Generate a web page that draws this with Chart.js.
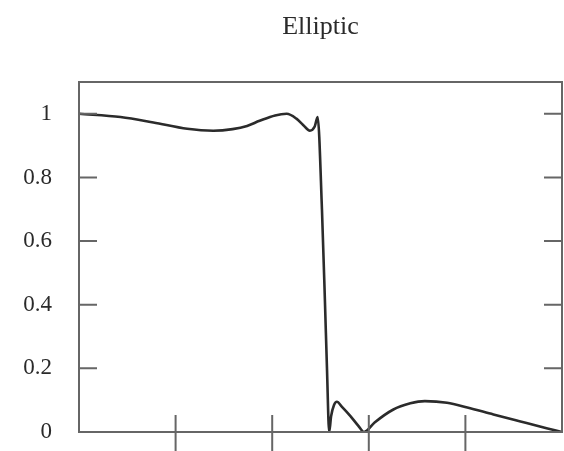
<!DOCTYPE html>
<html>
<head>
<meta charset="utf-8">
<script src="https://cdn.jsdelivr.net/npm/chart.js@4/dist/chart.umd.min.js"></script>
<style>
  html, body { margin: 0; padding: 0; background: #fff; }
  #wrap { width: 564px; height: 451px; }
</style>
</head>
<body>
<div id="wrap"><canvas id="chart" width="564" height="451"></canvas></div>
<script>
// Elliptic filter magnitude response
const freq = [0, 0.43, 0.77, 1.12, 1.39, 1.59, 1.74, 1.87, 2.03, 2.15, 2.25, 2.32, 2.39, 2.44, 2.47,
              2.515, 2.547, 2.567, 2.59, 2.61, 2.64, 2.67, 2.72, 2.81, 2.89, 2.95,
              3.06, 3.25, 3.43, 3.58, 3.81, 4.02, 4.29, 4.57, 4.84, 5.0];
const gain = [1.0, 0.99, 0.973, 0.953, 0.947, 0.952, 0.962, 0.978, 0.995, 1.0, 0.985, 0.965, 0.947, 0.96, 0.99,
              0.7, 0.4, 0.2, 0.0, 0.05, 0.085, 0.095, 0.08, 0.05, 0.02, 0.0,
              0.03, 0.07, 0.09, 0.097, 0.092, 0.077, 0.055, 0.033, 0.012, 0.0];
const yTicks = [0, 0.2, 0.4, 0.6, 0.8, 1];
const xTicks = [1, 2, 3, 4];

const serif = '"Liberation Serif", "DejaVu Serif", serif';

// frame and inward tick marks, placed with the chart's own scales
const frameTicks = {
    id: 'frameTicks',
    afterDraw(chart) {
        const ctx = chart.ctx;
        const a = chart.chartArea;
        const xs = chart.scales.x;
        const ys = chart.scales.y;
        ctx.save();
        ctx.strokeStyle = '#666';
        ctx.lineWidth = 2;
        ctx.strokeRect(a.left, a.top, a.right - a.left, a.bottom - a.top);
        ctx.beginPath();
        yTicks.forEach(v => {
            if (v === 0) return;
            const y = ys.getPixelForValue(v);
            ctx.moveTo(a.left, y);
            ctx.lineTo(a.left + 18, y);
            ctx.moveTo(a.right - 18, y);
            ctx.lineTo(a.right, y);
        });
        xTicks.forEach(v => {
            const x = xs.getPixelForValue(v);
            ctx.moveTo(x, a.bottom - 17);
            ctx.lineTo(x, chart.height);
        });
        ctx.stroke();
        ctx.restore();
    }
};

new Chart(document.getElementById('chart'), {
    type: 'line',
    data: {
        datasets: [{
            label: 'Elliptic',
            data: freq.map((f, i) => ({x: f, y: gain[i]})),
            borderColor: '#2b2b2b',
            borderWidth: 2.6,
            pointRadius: 0,
            cubicInterpolationMode: 'monotone',
            fill: false
        }]
    },
    options: {
        responsive: false,
        animation: false,
        layout: {padding: {left: 0, right: 2, top: 0, bottom: 19}},
        plugins: {
            legend: {display: false},
            tooltip: {enabled: false},
            title: {
                display: true,
                text: 'Elliptic',
                fullSize: false,
                color: '#2a2a2a',
                font: {family: serif, size: 26, weight: 'normal'},
                padding: {top: 11.4, bottom: 39.4}
            }
        },
        scales: {
            x: {
                type: 'linear',
                display: false,
                min: 0,
                max: 5,
                grid: {display: false, drawTicks: false},
                ticks: {display: false}
            },
            y: {
                type: 'linear',
                min: 0,
                max: 1.1,
                afterBuildTicks: s => { s.ticks = yTicks.map(v => ({value: v})); },
                afterFit: s => {
                    s.width = 79;
                    // the label gap should not push the plot area
                    s.paddingTop = 0;
                    s.paddingBottom = 0;
                },
                grid: {display: false, drawTicks: false},
                border: {display: false},
                ticks: {
                    padding: 27,
                    color: '#2a2a2a',
                    font: {family: serif, size: 23},
                    callback: v => String(v)
                }
            }
        }
    },
    plugins: [frameTicks]
});
</script>
</body>
</html>
